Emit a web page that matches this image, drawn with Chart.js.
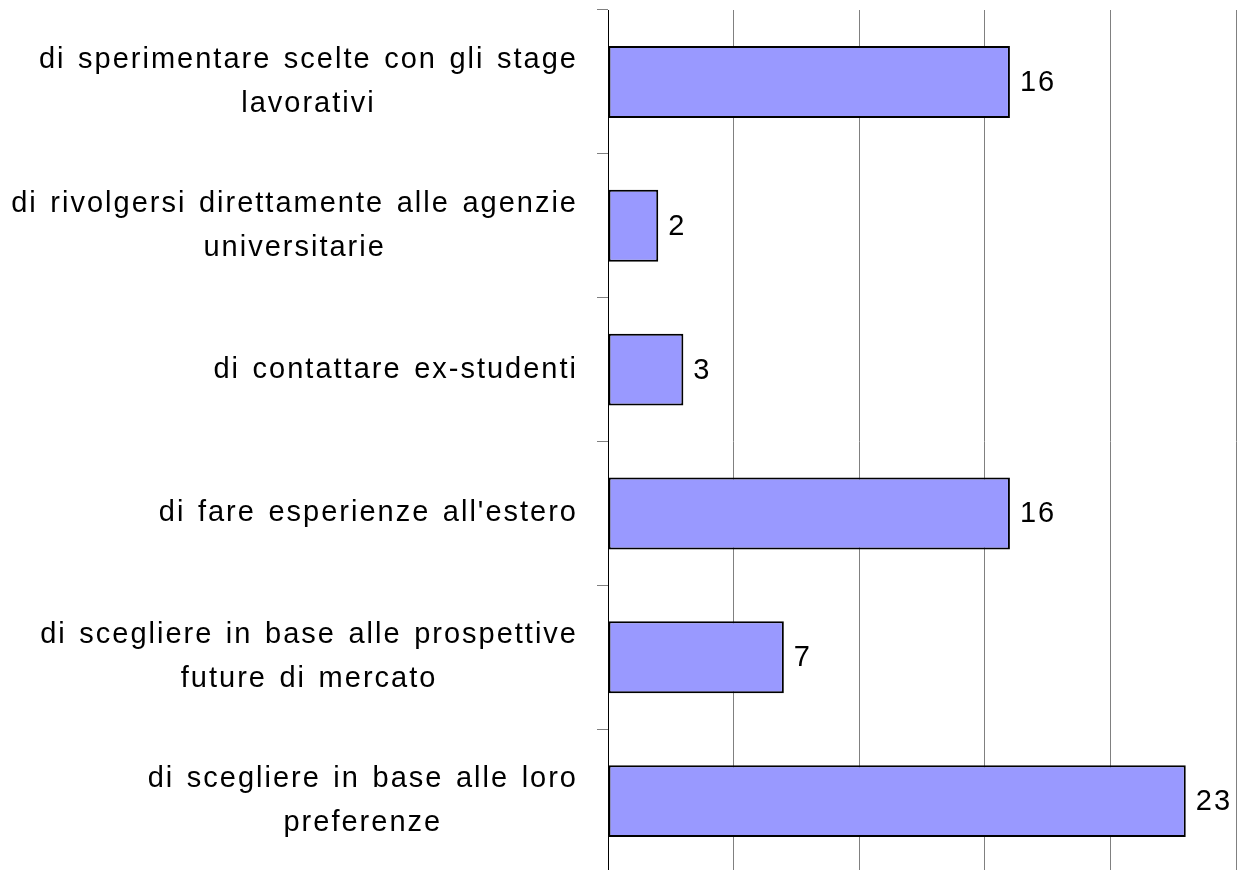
<!DOCTYPE html>
<html>
<head>
<meta charset="utf-8">
<script src="https://cdn.jsdelivr.net/npm/chart.js@4"></script>
<style>
  html, body { margin: 0; padding: 0; background: #fff; overflow: hidden; }
  canvas { display: block; }
</style>
</head>
<body>
<canvas id="chart" width="1243" height="873"></canvas>
<script>
// Data
const categories = [
    ['di sperimentare scelte con gli stage', 'lavorativi'],
    ['di rivolgersi direttamente alle agenzie', 'universitarie'],
    'di contattare ex-studenti',
    "di fare esperienze all'estero",
    ['di scegliere in base alle prospettive', 'future di mercato'],
    ['di scegliere in base alle loro', 'preferenze']
];
const values = [16, 2, 3, 16, 7, 23];
const axisMax = 25;
const axisStep = 5;

const FONT = '29px "Liberation Sans", Arial, sans-serif';
const SPACING = '2px';
const WORD_SPACING = '2.5px';
const LINE_H = 44;

// category labels: block right-aligned, lines centred inside the block
const sideLabels = {
    id: 'sideLabels',
    afterDraw(chart) {
        const ctx = chart.ctx;
        const yScale = chart.scales.y;
        ctx.save();
        ctx.font = FONT;
        ctx.letterSpacing = SPACING;
        ctx.wordSpacing = WORD_SPACING;
        ctx.fillStyle = '#000';
        ctx.textAlign = 'center';
        ctx.textBaseline = 'middle';
        chart.data.labels.forEach(function(label, i) {
            const lines = [].concat(label);
            const w = Math.max(...lines.map(l => ctx.measureText(l).width));
            const cx = yScale.right - 30 - w / 2;
            const cy = yScale.getPixelForTick(i);
            lines.forEach(function(line, k) {
                ctx.fillText(line, cx, cy + (k - (lines.length - 1) / 2) * LINE_H);
            });
        });
        ctx.restore();
    }
};

// value next to the end of each bar
const valueLabels = {
    id: 'valueLabels',
    afterDatasetsDraw(chart) {
        const ctx = chart.ctx;
        const meta = chart.getDatasetMeta(0);
        ctx.save();
        ctx.font = FONT;
        ctx.letterSpacing = SPACING;
        ctx.fillStyle = '#000';
        ctx.textAlign = 'left';
        ctx.textBaseline = 'middle';
        meta.data.forEach(function(bar, i) {
            ctx.fillText(String(chart.data.datasets[0].data[i]), bar.x + 10, bar.y + 1);
        });
        ctx.restore();
    }
};

const ctx = document.getElementById('chart').getContext('2d');
new Chart(ctx, {
    type: 'bar',
    data: {
        labels: categories,
        datasets: [{
            data: values,
            backgroundColor: '#9999ff',
            borderColor: '#000',
            borderWidth: 2,
            borderSkipped: false,
            barPercentage: 0.5,
            categoryPercentage: 1
        }]
    },
    options: {
        indexAxis: 'y',
        responsive: false,
        animation: false,
        devicePixelRatio: 1,
        layout: { padding: { top: 10, right: 7, left: 0, bottom: 0 } },
        plugins: {
            legend: { display: false },
            tooltip: { enabled: false }
        },
        scales: {
            x: {
                min: 0,
                max: axisMax,
                ticks: { display: false, stepSize: axisStep },
                grid: { color: '#808080', lineWidth: 1, drawTicks: false },
                border: { display: false }
            },
            y: {
                offset: true,
                ticks: { display: false },
                grid: { drawOnChartArea: false, color: '#808080', tickLength: 11, offset: true },
                border: { color: '#000', width: 1 },
                afterFit: function(scale) { scale.width = 608; }
            }
        }
    },
    plugins: [sideLabels, valueLabels]
});
</script>
</body>
</html>
